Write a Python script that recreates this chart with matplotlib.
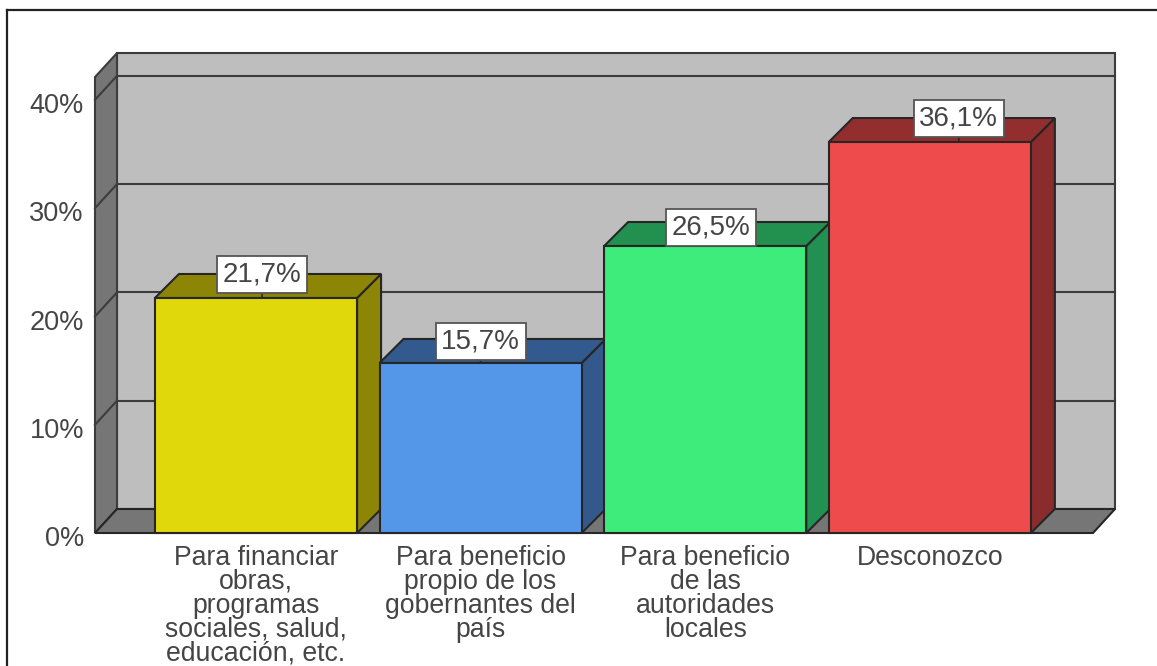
import matplotlib
matplotlib.use('Agg')
import matplotlib.pyplot as plt
from matplotlib.lines import Line2D
from matplotlib.patches import Polygon

categories = ['Para financiar\nobras,\nprogramas\nsociales, salud,\neducación, etc.',
              'Para beneficio\npropio de los\ngobernantes del\npaís',
              'Para beneficio\nde las\nautoridades\nlocales',
              'Desconozco']
values = [21.7, 15.7, 26.5, 36.1]
value_labels = ['21,7%', '15,7%', '26,5%', '36,1%']
y_ticks = [0, 10, 20, 30, 40]
y_tick_labels = ['0%', '10%', '20%', '30%', '40%']
front_colors = ['#e1d80c', '#5496e8', '#3dec7b', '#ee4c4c']
side_colors = ['#8c8506', '#32588c', '#229050', '#8a2c2c']
top_colors = ['#8c8506', '#335a8e', '#22904f', '#932e2e']
label_shift = [6, 0, 6, 29]
label_rise = [17, 15.5, 13.5, 17]

W, H = 1157, 666
X_UNIT = 224.6   # px per category
Y_UNIT = 10.83   # px per percent
X0, Y0 = 256, 533

plt.rcParams['font.family'] = 'Liberation Sans'
fig = plt.figure(figsize=(W / 100, H / 100), dpi=100, facecolor='white')
ax = fig.add_axes([0, 0, 1, 1])
ax.set_xlim(-X0 / X_UNIT, (W - X0) / X_UNIT)
ax.set_ylim(-(H - Y0) / Y_UNIT, Y0 / Y_UNIT)
ax.axis('off')

edge = '#262626'
wall_edge = '#3c3c3c'
text_col = '#454545'
wall_dx = 22 / X_UNIT
wall_dy = 24 / Y_UNIT
bar_dx = 24 / X_UNIT
bar_dy = 24 / Y_UNIT
left = (95 - X0) / X_UNIT
right = (1093 - X0) / X_UNIT
top = 42.1


def poly(pts, color, z, ec=edge):
    ax.add_patch(Polygon(pts, closed=True, facecolor=color, edgecolor=ec, linewidth=1.5, joinstyle='miter', zorder=z))


# walls and floor
poly([(left + wall_dx, wall_dy), (right + wall_dx, wall_dy), (right + wall_dx, top + wall_dy), (left + wall_dx, top + wall_dy)], '#bebebe', 1, wall_edge)
poly([(left, 0), (left + wall_dx, wall_dy), (left + wall_dx, top + wall_dy), (left, top)], '#767676', 2, wall_edge)
poly([(left, 0), (right, 0), (right + wall_dx, wall_dy), (left + wall_dx, wall_dy)], '#767676', 2)

for t in y_ticks[1:]:
    ax.plot([left + wall_dx, right + wall_dx], [t + wall_dy, t + wall_dy], color=wall_edge, lw=1.5, zorder=3)
    ax.plot([left, left + wall_dx], [t, t + wall_dy], color=wall_edge, lw=1.5, zorder=3)

for t, s in zip(y_ticks, y_tick_labels):
    ax.annotate(s, (left, t), xytext=(-8, -4.5), textcoords='offset points', ha='right', va='center',
                fontsize=19.5, color=text_col)

# bars
for i, v in enumerate(values):
    x0, x1 = i - 0.45, i + 0.45
    z = 5 + i
    poly([(x1, 0), (x1 + bar_dx, bar_dy), (x1 + bar_dx, v + bar_dy), (x1, v)], side_colors[i], z)
    poly([(x0, v), (x1, v), (x1 + bar_dx, v + bar_dy), (x0 + bar_dx, v + bar_dy)], top_colors[i], z)
    poly([(x0, 0), (x1, 0), (x1, v), (x0, v)], front_colors[i], z)
    ax.annotate(value_labels[i], (i + label_shift[i] / X_UNIT, v), xytext=(0, label_rise[i]), textcoords='offset points',
                ha='center', va='center', fontsize=20, color=text_col, zorder=20,
                bbox=dict(boxstyle='square,pad=0.2', facecolor='white', edgecolor='#555555', linewidth=1.3),
                arrowprops=dict(arrowstyle='-', color=edge, lw=1.2, shrinkA=0, shrinkB=0))

for i, c in enumerate(categories):
    ax.annotate(c, (i, 0), xytext=(0, -8.5), textcoords='offset points', ha='center', va='top',
                fontsize=19.2, color=text_col, linespacing=0.9, multialignment='center')

# outer frame, only the top and left edges show
fig.add_artist(Line2D([7 / W, 7 / W], [0, 1 - 10 / H], color='#222222', lw=1.6))
fig.add_artist(Line2D([7 / W, 1], [1 - 10 / H, 1 - 10 / H], color='#222222', lw=1.6))

fig.savefig('out.png', dpi=100)
